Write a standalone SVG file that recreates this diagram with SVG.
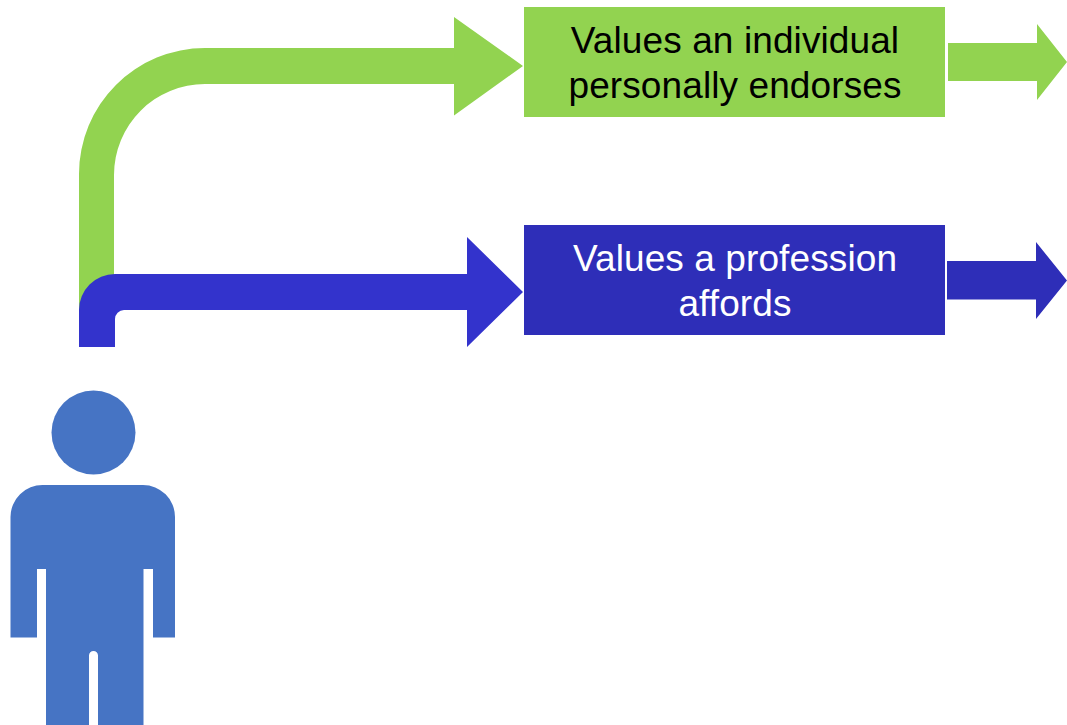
<svg xmlns="http://www.w3.org/2000/svg" width="1067" height="725" viewBox="0 0 1067 725">
<style>
.green{fill:#92D350}
.blue{fill:#3333CC}
.boxblue{fill:#2E2EB8}
.person{fill:#4674C4}
text{font-family:"Liberation Sans",Arial,sans-serif;font-size:37px;text-anchor:middle;letter-spacing:0.1px}
</style>
<rect width="1067" height="725" fill="#fff"/>
<g id="connectors">
<path id="bent-green" class="green" d="M79 347V174A126 126 0 0 1 205 48H454V17L523 66L454 115.500V84H205A91 91 0 0 0 114 175V347Z"/>
<path id="bent-blue" class="blue" d="M79 347V310A36 36 0 0 1 115 274H467V237L523 292L467 347V310H124A9 9 0 0 0 115 319V347Z"/>
<path id="out-green" class="green" d="M948 43H1037V24L1067 62L1037 100V81H948Z"/>
<path id="out-blue" class="boxblue" d="M947 261H1036V242L1067 280.500L1036 319V299.500H947Z"/>
</g>
<g id="node-personal">
<rect class="green" x="524" y="7" width="421" height="110"/>
<text x="735" y="53" fill="#000">Values an individual</text>
<text x="735" y="98" fill="#000">personally endorses</text>
</g>
<g id="node-profession">
<rect class="boxblue" x="524" y="225" width="421" height="110"/>
<text x="735" y="271" fill="#fff">Values a profession</text>
<text x="735" y="316" fill="#fff">affords</text>
</g>
<g id="person">
<circle class="person" cx="93.500" cy="432.500" r="42"/>
<path class="person" d="M43 485H143A32 32 0 0 1 175 517V637.500H153V569H143.500V725H98V655.500A4.500 4.500 0 0 0 89 655.500V725H46V569H37V637.500H10.500V517A32 32 0 0 1 43 485Z"/>
</g>
</svg>
